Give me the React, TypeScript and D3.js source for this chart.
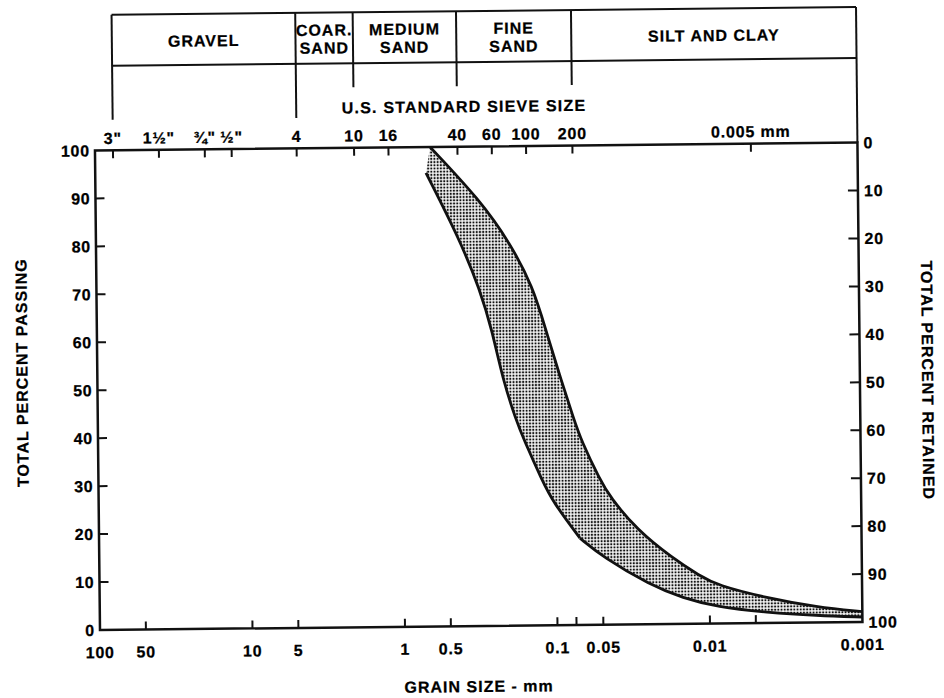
import React from "react";
import * as d3 from "d3";

// ---- data (grain size in mm, percent passing) ----
const upperSize = [0.635, 0.301, 0.1928, 0.1372, 0.1135, 0.0939, 0.0754, 0.0681, 0.0514, 0.0443, 0.02965, 0.01754, 0.01153, 0.00895, 0.00422, 0.001986, 0.001];
const upperPassing = [100, 88.8, 79.8, 70.6, 61.5, 52.5, 42.8, 38.6, 30.2, 26.6, 19.7, 13.8, 9.95, 8.0, 5.2, 3.2, 2.15];

const lowerSize = [0.678, 0.41, 0.3056, 0.2564, 0.2189, 0.1811, 0.161, 0.1234, 0.1049, 0.0702, 0.0497, 0.02457, 0.01496, 0.00896, 0.00422, 0.001987, 0.001];
const lowerPassing = [94.6, 80.5, 70.1, 61.7, 51.2, 42.9, 38.7, 30.3, 25.7, 18.1, 14.1, 8.2, 5.4, 3.45, 2.2, 1.45, 1.04];
const lowerKinkIndex = 9;

const sieveSizes = [76.2, 38.1, 19.05, 12.7, 4.76, 2.0, 1.19, 0.42, 0.25, 0.149, 0.074, 0.005];
const sieveLabels = ['3"', '1½"', '¾"', '½"', "4", "10", "16", "40", "60", "100", "200", "0.005 mm"];

const grainTicks = [50, 10, 5, 1, 0.5, 0.1, 0.075, 0.05, 0.01, 0.005];
const grainLabelValues = [100, 50, 10, 5, 1, 0.5, 0.1, 0.05, 0.01, 0.001];
const grainLabels = ["100", "50", "10", "5", "1", "0.5", "0.1", "0.05", "0.01", "0.001"];

const passingTicks = [0, 10, 20, 30, 40, 50, 60, 70, 80, 90, 100];
const retainedTicks = [0, 10, 20, 30, 40, 50, 60, 70, 80, 90, 100];

const classNames = [["GRAVEL"], ["COAR.", "SAND"], ["MEDIUM", "SAND"], ["FINE", "SAND"], ["SILT AND CLAY"]];
const classBounds = [76.2, 4.76, 2.0, 0.42, 0.074, 0.001];

// ---- layout ----
const W = 944;
const H = 698;
const L = 97.5;
const R = 860;
const T = 146.5;
const B = 626;
const HEADER_TOP = 11;
const HEADER_MID = 62;
const LONG_DROP = 116;
const SHORT_DROP = 86;

const FONT = "'Liberation Sans', Arial, Helvetica, sans-serif";

export default function App() {
  const x = d3.scaleLog().domain([100, 0.001]).range([L, R]);
  const y = d3.scaleLinear().domain([0, 100]).range([B, T]);
  const yRet = d3.scaleLinear().domain([100, 0]).range([B, T]);

  const line = d3
    .line<[number, number]>()
    .x((d) => x(d[0]))
    .y((d) => y(d[1]))
    .curve(d3.curveBasis);

  const upper: [number, number][] = upperSize.map((s, i) => [s, upperPassing[i]]);
  const lower: [number, number][] = lowerSize.map((s, i) => [s, lowerPassing[i]]);
  const lowerA = lower.slice(0, lowerKinkIndex + 1);
  const lowerB = lower.slice(lowerKinkIndex);

  const upperPath = line(upper) || "";
  const lowerAPath = line(lowerA) || "";
  const lowerBPath = line(lowerB) || "";
  const revB = (line(lowerB.slice().reverse()) || "").replace(/^M/, "L");
  const revA = (line(lowerA.slice().reverse()) || "").replace(/^M/, "L");
  const fillPath = upperPath + revB + revA + "Z";

  const txt = {
    fontFamily: FONT,
    fontWeight: 700,
    fill: "#000",
    stroke: "#000",
    strokeWidth: 0.25,
  } as const;

  const xRight = x(0.001);

  return (
    <svg
      width={W}
      height={H}
      viewBox={`0 0 ${W} ${H}`}
      style={{ position: "absolute", left: 0, top: 0, background: "#fff" }}
    >
      <defs>
        <pattern id="dots" patternUnits="userSpaceOnUse" width={3.2} height={3.2}>
          <rect x={0} y={0} width={3.2} height={3.2} fill="#fff" />
          <rect x={0.6} y={0.6} width={2} height={2} fill="#111" />
        </pattern>
      </defs>
      <rect x={0} y={0} width={W} height={H} fill="#fff" />
      <g transform="rotate(-0.6 480 390)">
        {/* header box */}
        <line x1={x(classBounds[0])} x2={xRight} y1={HEADER_TOP} y2={HEADER_TOP} stroke="#111" strokeWidth={2} />
        <line x1={x(classBounds[0])} x2={xRight} y1={HEADER_MID} y2={HEADER_MID} stroke="#111" strokeWidth={2} />
        {classBounds.map((b, i) => {
          const bottom = i < 2 ? LONG_DROP : i === classBounds.length - 1 ? T : SHORT_DROP;
          return (
            <line key={"cb" + i} x1={x(b)} x2={x(b)} y1={HEADER_TOP} y2={bottom} stroke="#111" strokeWidth={2} />
          );
        })}
        {classNames.map((lines, i) => {
          const cx = (x(classBounds[i]) + x(classBounds[i + 1])) / 2;
          if (lines.length === 1) {
            return (
              <text key={"cn" + i} x={cx} y={43.5} textAnchor="middle" fontSize={16} letterSpacing={1} style={txt}>
                {lines[0]}
              </text>
            );
          }
          return (
            <g key={"cn" + i}>
              <text x={cx} y={34} textAnchor="middle" fontSize={16} letterSpacing={1} style={txt}>
                {lines[0]}
              </text>
              <text x={cx} y={52} textAnchor="middle" fontSize={16} letterSpacing={1} style={txt}>
                {lines[1]}
              </text>
            </g>
          );
        })}
        <text x={467} y={112} textAnchor="middle" fontSize={16} letterSpacing={1.2} style={txt}>
          U.S. STANDARD SIEVE SIZE
        </text>

        {/* band */}
        <path d={fillPath} fill="url(#dots)" stroke="none" />
        <path d={upperPath} fill="none" stroke="#111" strokeWidth={2.8} strokeLinejoin="round" />
        <path d={lowerAPath} fill="none" stroke="#111" strokeWidth={2.8} strokeLinejoin="round" />
        <path d={lowerBPath} fill="none" stroke="#111" strokeWidth={2.8} strokeLinejoin="round" />

        {/* frame */}
        <rect x={L} y={T} width={R - L} height={B - T} fill="none" stroke="#111" strokeWidth={2.5} />

        {/* left axis */}
        {passingTicks.map((v) => (
          <g key={"lp" + v}>
            {v > 0 && v < 100 && <line x1={L} x2={L + 9} y1={y(v)} y2={y(v)} stroke="#111" strokeWidth={2} />}
            <text x={L - 5} y={y(v)} dy="0.36em" textAnchor="end" fontSize={16} letterSpacing={0.8} style={txt}>
              {v}
            </text>
          </g>
        ))}
        {/* right axis */}
        {retainedTicks.map((v) => (
          <g key={"rr" + v}>
            {v > 0 && v < 100 && <line x1={R - 10} x2={R} y1={yRet(v)} y2={yRet(v)} stroke="#111" strokeWidth={2} />}
            <text x={R + 6} y={yRet(v)} dy="0.36em" textAnchor="start" fontSize={16} letterSpacing={0.8} style={txt}>
              {v}
            </text>
          </g>
        ))}
        {/* top axis (sieve) */}
        {sieveSizes.map((s, i) => (
          <g key={"sv" + i}>
            <line x1={x(s)} x2={x(s)} y1={T} y2={T + 8} stroke="#111" strokeWidth={2} />
            <text x={x(s)} y={T - 6.5} textAnchor="middle" fontSize={16} letterSpacing={0.8} style={txt}>
              {sieveLabels[i]}
            </text>
          </g>
        ))}
        {/* bottom axis (grain size) */}
        {grainTicks.map((g, i) => (
          <line key={"gt" + i} x1={x(g)} x2={x(g)} y1={B} y2={B - 8} stroke="#111" strokeWidth={2} />
        ))}
        {grainLabelValues.map((g, i) => (
          <text key={"gl" + i} x={x(g)} y={B + 28} textAnchor="middle" fontSize={16} letterSpacing={0.8} style={txt}>
            {grainLabels[i]}
          </text>
        ))}

        {/* titles */}
        <text transform="translate(22 368) rotate(-90)" textAnchor="middle" dy="0.36em" fontSize={16} letterSpacing={1} style={txt}>
          TOTAL PERCENT PASSING
        </text>
        <text transform="translate(928 385) rotate(90)" textAnchor="middle" dy="0.36em" fontSize={16} letterSpacing={1} style={txt}>
          TOTAL PERCENT RETAINED
        </text>
        <text x={476} y={692} textAnchor="middle" fontSize={16} letterSpacing={1} style={txt}>
          GRAIN SIZE - mm
        </text>
      </g>
    </svg>
  );
}
